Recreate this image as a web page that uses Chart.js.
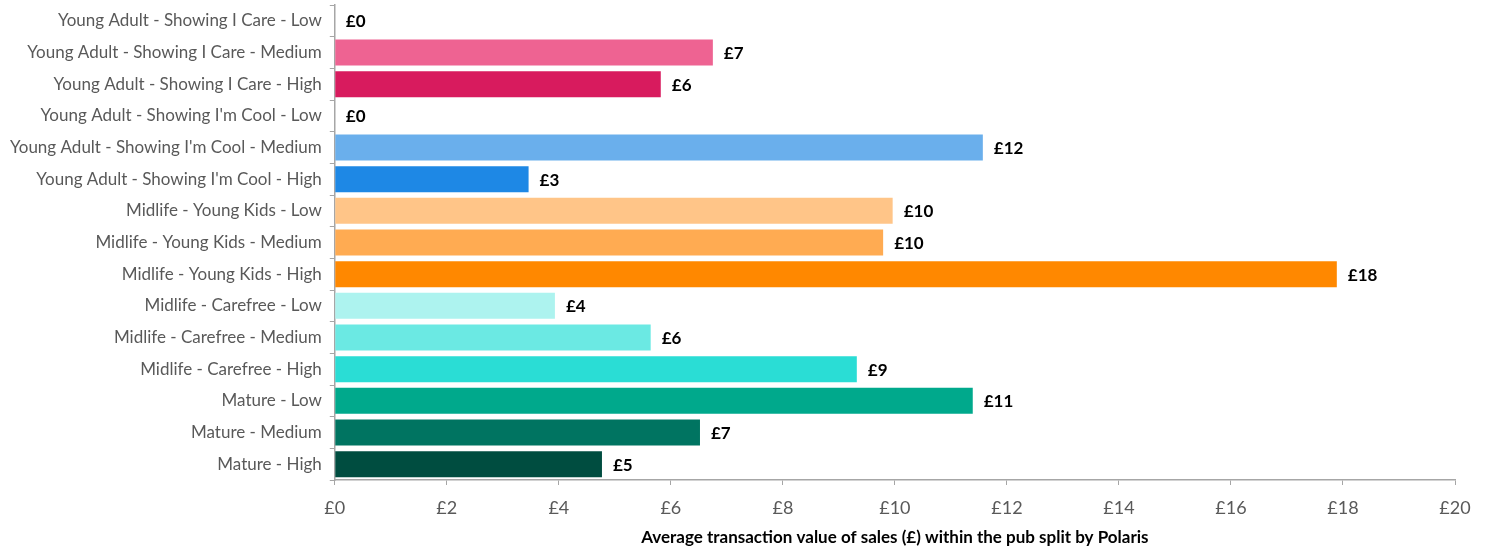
<!DOCTYPE html>
<html>
<head>
<meta charset="utf-8">
<script src="https://cdn.jsdelivr.net/npm/chart.js@4"></script>
<style>
  html, body { margin: 0; padding: 0; background: #fff; }
  #wrap { width: 1491px; height: 548px; }
</style>
</head>
<body>
<div id="wrap"><canvas id="myChart"></canvas></div>
<script>
const labels = [
  "Young Adult - Showing I Care - Low",
  "Young Adult - Showing I Care - Medium",
  "Young Adult - Showing I Care - High",
  "Young Adult - Showing I'm Cool - Low",
  "Young Adult - Showing I'm Cool - Medium",
  "Young Adult - Showing I'm Cool - High",
  "Midlife - Young Kids - Low",
  "Midlife - Young Kids - Medium",
  "Midlife - Young Kids - High",
  "Midlife - Carefree - Low",
  "Midlife - Carefree - Medium",
  "Midlife - Carefree - High",
  "Mature - Low",
  "Mature - Medium",
  "Mature - High",
];
const values = [0, 6.75, 5.82, 0, 11.57, 3.46, 9.96, 9.79, 17.89, 3.93, 5.64, 9.32, 11.39, 6.52, 4.77];
const colors = [
  "#F7A8C4", "#EE6392", "#D81B5E",
  "#A9D3F5", "#6AAFEC", "#1E88E5",
  "#FFC588", "#FFAB52", "#FF8800",
  "#ADF3EF", "#6BE9E3", "#2ADDD5",
  "#00A98C", "#007461", "#004D40",
];
const axisTitle = "Average transaction value of sales (£) within the pub split by Polaris";

const FONT = "Lato, 'Open Sans', sans-serif";

// draws "£N" to the right of each bar
const valueLabels = {
  id: "valueLabels",
  afterDatasetsDraw(chart) {
    const ctx = chart.ctx;
    const meta = chart.getDatasetMeta(0);
    ctx.save();
    ctx.font = "bold 17px " + FONT;
    ctx.fillStyle = "#000";
    ctx.textBaseline = "middle";
    meta.data.forEach((bar, i) => {
      ctx.fillText("£" + Math.round(values[i]), bar.x + 11, bar.y + 1);
    });
    ctx.restore();
  },
};

const config = {
  type: "bar",
  data: {
    labels: labels,
    datasets: [{
      data: values,
      backgroundColor: colors,
      barPercentage: 0.82,
      categoryPercentage: 1,
    }],
  },
  options: {
    indexAxis: "y",
    responsive: true,
    maintainAspectRatio: false,
    animation: false,
    layout: { padding: { top: 5, right: 36, left: 2, bottom: 0 } },
    plugins: {
      legend: { display: false },
      tooltip: { enabled: false },
    },
    scales: {
      x: {
        min: 0,
        max: 20,
        ticks: {
          stepSize: 2,
          color: "#595959",
          font: { family: FONT, size: 18 },
          padding: 12,
          callback: (v) => "£" + v,
        },
        grid: {
          drawOnChartArea: false,
          drawTicks: true,
          tickLength: 5,
          color: "#A6A6A6",
        },
        border: { color: "#A6A6A6", width: 1.5 },
        title: {
          display: true,
          text: axisTitle,
          color: "#000",
          font: { family: FONT, size: 17, weight: "bold" },
          padding: { top: -3, bottom: 0 },
        },
      },
      y: {
        ticks: {
          color: "#595959",
          font: { family: FONT, size: 17 },
          padding: 8,
        },
        grid: {
          offset: true,
          drawOnChartArea: false,
          drawTicks: true,
          tickLength: 5,
          color: "#A6A6A6",
        },
        border: { color: "#A6A6A6", width: 1.5 },
        afterFit(scale) {
          scale.paddingTop = 0;
          scale.paddingBottom = 0;
        },
      },
    },
  },
  plugins: [valueLabels],
};

new Chart("myChart", config);
</script>
</body>
</html>
